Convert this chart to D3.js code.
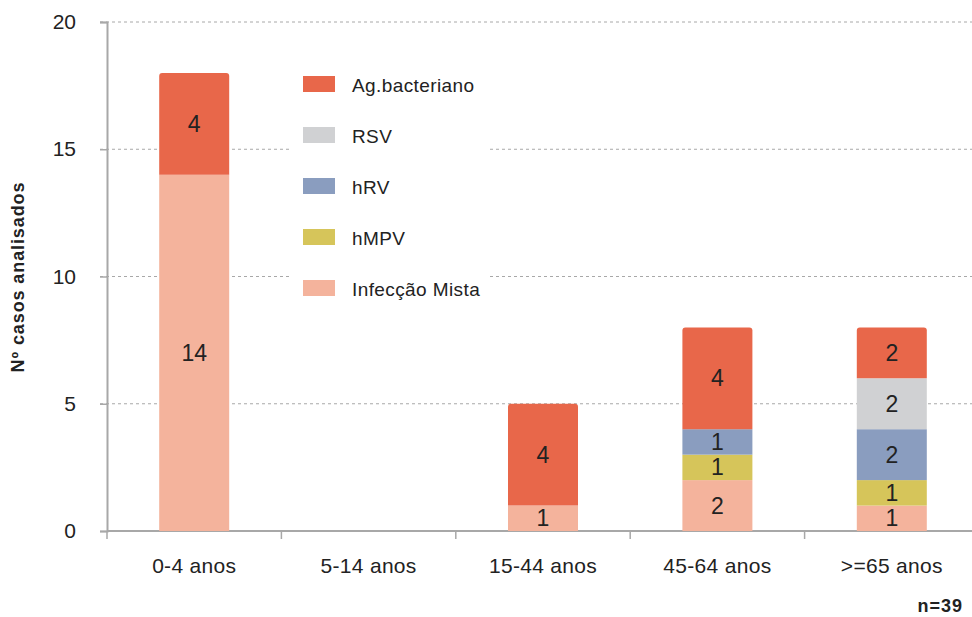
<!DOCTYPE html>
<html>
<head>
<meta charset="utf-8">
<script src="https://cdn.jsdelivr.net/npm/d3@7"></script>
<style>
  body { margin: 0; background: #fff; }
  svg text { font-family: "Liberation Sans", Arial, sans-serif; }
</style>
</head>
<body>
<div id="chart"></div>
<script>
// faixas etarias
const categories = ["0-4 anos", "5-14 anos", "15-44 anos", "45-64 anos", ">=65 anos"];
// series, empilhadas de baixo para cima
const seriesNames = ["Infecção Mista", "hMPV", "hRV", "RSV", "Ag.bacteriano"];
const mista = [14, 0, 1, 2, 1];
const hMPV = [0, 0, 0, 1, 1];
const hRV = [0, 0, 0, 1, 2];
const RSV = [0, 0, 0, 0, 2];
const agBacteriano = [4, 0, 4, 4, 2];
const yTicks = [0, 5, 10, 15, 20];
// legenda, de cima para baixo
const legendOrder = ["Ag.bacteriano", "RSV", "hRV", "hMPV", "Infecção Mista"];

const colors = {
  "Ag.bacteriano": "#e8674a",
  "RSV": "#d0d1d3",
  "hRV": "#8a9dbf",
  "hMPV": "#d6c55a",
  "Infecção Mista": "#f4b39c"
};

const seriesValues = {
  "Infecção Mista": mista,
  "hMPV": hMPV,
  "hRV": hRV,
  "RSV": RSV,
  "Ag.bacteriano": agBacteriano
};

const width = 972, height = 617;
const margin = {top: 22, right: 0, bottom: 86, left: 107};

const svg = d3.select("#chart").append("svg")
  .attr("width", width)
  .attr("height", height);

// build table for d3.stack
let table = categories.map((c, i) => {
  let row = {cat: c};
  seriesNames.forEach(s => row[s] = seriesValues[s][i]);
  return row;
});

let stack = d3.stack().keys(seriesNames);
let stacked = stack(table);

let x = d3.scaleBand()
  .domain(categories)
  .range([margin.left, 979])
  .paddingInner(0)
  .paddingOuter(0);

let y = d3.scaleLinear()
  .domain([0, 20])
  .range([531, margin.top]);

// gridlines
svg.append("g")
  .selectAll("line")
  .data(yTicks.filter(d => d > 0))
  .enter()
  .append("line")
  .attr("x1", 100)
  .attr("x2", 975)
  .attr("y1", d => y(d))
  .attr("y2", d => y(d))
  .style("stroke", "#a8a8a8")
  .style("stroke-dasharray", "3,3")
  .style("stroke-width", 1);

// y axis
let yAxis = svg.append("g")
  .attr("transform", `translate(${margin.left},0)`)
  .call(d3.axisLeft(y).tickValues(yTicks).tickSize(7).tickPadding(24));
yAxis.select(".domain").style("stroke", "#a8a8a8").style("stroke-width", 2);
yAxis.selectAll(".tick line").style("stroke", "#a8a8a8").style("stroke-width", 1.5);
yAxis.selectAll(".tick text")
  .style("font-size", "21px")
  .style("fill", "#222");

// x axis
let xAxisG = svg.append("g");
xAxisG.append("line")
  .attr("x1", margin.left)
  .attr("x2", 975)
  .attr("y1", y(0))
  .attr("y2", y(0))
  .style("stroke", "#a8a8a8")
  .style("stroke-width", 2);
xAxisG.selectAll(".xtick")
  .data(categories)
  .enter()
  .append("line")
  .attr("class", "xtick")
  .attr("x1", d => x(d))
  .attr("x2", d => x(d))
  .attr("y1", y(0))
  .attr("y2", y(0) + 8)
  .style("stroke", "#a8a8a8")
  .style("stroke-width", 1.5);
xAxisG.selectAll("text")
  .data(categories)
  .enter()
  .append("text")
  .attr("x", d => x(d) + x.bandwidth() / 2)
  .attr("y", 573)
  .attr("text-anchor", "middle")
  .style("font-size", "21px")
  .style("letter-spacing", "0.3px")
  .style("fill", "#222")
  .text(d => d);

// legend (white box over gridlines)
let legend = svg.append("g").attr("transform", "translate(290, 60)");
legend.append("rect")
  .attr("width", 198)
  .attr("height", 250)
  .style("fill", "#fff");
legend.selectAll(".swatch")
  .data(legendOrder)
  .enter()
  .append("rect")
  .attr("class", "swatch")
  .attr("x", 13)
  .attr("y", (d, i) => 16 + i * 51)
  .attr("width", 32)
  .attr("height", 16)
  .style("fill", d => colors[d]);
legend.selectAll(".ltext")
  .data(legendOrder)
  .enter()
  .append("text")
  .attr("class", "ltext")
  .attr("x", 62)
  .attr("y", (d, i) => 32 + i * 51)
  .style("font-size", "19px")
  .style("letter-spacing", "0.4px")
  .style("fill", "#222")
  .text(d => d);

// bars
const barW = 70;
let totals = table.map(r => d3.sum(seriesNames, s => r[s]));

let layers = svg.append("g")
  .selectAll("g")
  .data(stacked)
  .enter()
  .append("g")
  .style("fill", d => colors[d.key]);

layers.each(function(layer) {
  let g = d3.select(this);
  layer.forEach((seg, i) => {
    if (seg[1] - seg[0] <= 0) return;
    let cx = x(categories[i]) + x.bandwidth() / 2;
    let isTop = seg[1] === totals[i];
    let y0 = y(seg[0]), y1 = y(seg[1]);
    if (isTop) {
      let r = 3;
      let x0 = cx - barW / 2, x1 = cx + barW / 2;
      g.append("path")
        .attr("d", `M${x0},${y0} L${x0},${y1 + r} Q${x0},${y1} ${x0 + r},${y1} L${x1 - r},${y1} Q${x1},${y1} ${x1},${y1 + r} L${x1},${y0} Z`);
    } else {
      g.append("rect")
        .attr("x", cx - barW / 2)
        .attr("y", y1)
        .attr("width", barW)
        .attr("height", y0 - y1);
    }
    g.append("text")
      .attr("x", cx)
      .attr("y", (y0 + y1) / 2 + 8)
      .attr("text-anchor", "middle")
      .style("font-size", "23px")
      .style("fill", "#222")
      .text(seg[1] - seg[0]);
  });
});

// y axis title
svg.append("text")
  .attr("transform", "translate(24, 277) rotate(-90)")
  .attr("text-anchor", "middle")
  .style("font-size", "18px")
  .style("letter-spacing", "0.9px")
  .style("font-weight", "bold")
  .style("fill", "#222")
  .text("Nº casos analisados");

// n
svg.append("text")
  .attr("x", 963)
  .attr("y", 612)
  .attr("text-anchor", "end")
  .style("font-size", "18px")
  .style("letter-spacing", "1px")
  .style("font-weight", "bold")
  .style("fill", "#222")
  .text("n=39");
</script>
</body>
</html>
